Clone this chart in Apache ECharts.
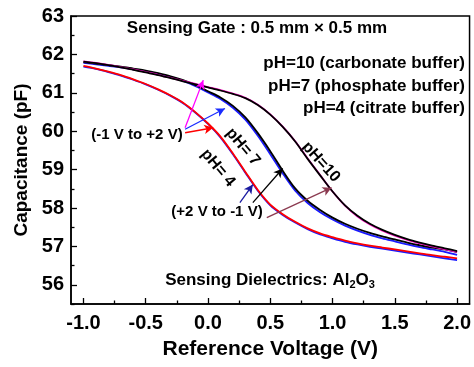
<!DOCTYPE html>
<html>
<head>
<meta charset="utf-8">
<script src="https://cdn.jsdelivr.net/npm/echarts@6/dist/echarts.min.js"></script>
<style>
  html, body { margin: 0; padding: 0; background: #fff; }
  #cv { width: 474px; height: 367px; }
</style>
</head>
<body>
<div id="cv"></div>
<script>
! function() {
    'use strict'
    var FONT = "'Liberation Sans', Arial, sans-serif";

    // reference voltage (V)
    var voltage = [-1.0, -0.9, -0.8, -0.7, -0.6, -0.5, -0.4, -0.3, -0.2, -0.1,
        0.0, 0.1, 0.2, 0.3, 0.4, 0.5, 0.6, 0.7, 0.8, 0.9,
        1.0, 1.1, 1.2, 1.3, 1.4, 1.5, 1.6, 1.7, 1.8, 1.9, 2.0];

    // capacitance (pF)
    var ph4Fwd = [61.70, 61.63, 61.55, 61.46, 61.35, 61.23, 61.09, 60.93, 60.74, 60.49,
        60.20, 59.86, 59.42, 58.94, 58.47, 58.09, 57.84, 57.64, 57.47, 57.34,
        57.24, 57.15, 57.08, 57.02, 56.97, 56.92, 56.87, 56.82, 56.77, 56.73, 56.69];
    var ph4Rev = [61.68, 61.62, 61.54, 61.45, 61.34, 61.22, 61.08, 60.92, 60.73, 60.48,
        60.19, 59.84, 59.40, 58.92, 58.45, 58.07, 57.82, 57.62, 57.45, 57.31,
        57.21, 57.12, 57.05, 56.99, 56.94, 56.89, 56.84, 56.79, 56.74, 56.69, 56.64];
    var ph7Fwd = [61.78, 61.74, 61.70, 61.66, 61.61, 61.56, 61.49, 61.41, 61.31, 61.17,
        61.01, 60.84, 60.61, 60.30, 59.88, 59.40, 58.90, 58.45, 58.13, 57.89,
        57.70, 57.54, 57.41, 57.30, 57.21, 57.13, 57.05, 56.98, 56.92, 56.86, 56.78];
    var ph7Rev = [61.80, 61.76, 61.72, 61.68, 61.63, 61.58, 61.51, 61.43, 61.33, 61.20,
        61.04, 60.88, 60.66, 60.36, 59.95, 59.48, 58.97, 58.51, 58.19, 57.95,
        57.75, 57.59, 57.46, 57.35, 57.26, 57.18, 57.10, 57.03, 56.97, 56.92, 56.85];
    var ph10Fwd = [61.82, 61.78, 61.73, 61.67, 61.61, 61.54, 61.47, 61.39, 61.31, 61.23,
        61.15, 61.07, 60.98, 60.87, 60.69, 60.44, 60.12, 59.74, 59.29, 58.86,
        58.43, 58.06, 57.78, 57.57, 57.41, 57.28, 57.17, 57.08, 57.00, 56.93, 56.86];
    var ph10Rev = [61.81, 61.77, 61.72, 61.66, 61.60, 61.53, 61.46, 61.38, 61.30, 61.22,
        61.14, 61.06, 60.97, 60.86, 60.68, 60.43, 60.11, 59.73, 59.28, 58.85,
        58.43, 58.07, 57.80, 57.59, 57.43, 57.30, 57.19, 57.10, 57.02, 56.95, 56.88];

    var xTicks = [-1.0, -0.5, 0.0, 0.5, 1.0, 1.5, 2.0];
    var xMinor = [-0.75, -0.25, 0.25, 0.75, 1.25, 1.75];
    var yTicks = [56, 57, 58, 59, 60, 61, 62, 63];
    var yMinor = [55.5, 56.5, 57.5, 58.5, 59.5, 60.5, 61.5, 62.5];

    // sweep direction arrows: [x1, y1, x2, y2, colour]
    var arrows = [
        [-0.184, 60.09, -0.038, 61.33, '#ff00ff'],
        [-0.184, 60.05, 0.136, 60.59, '#1a2cff'],
        [-0.184, 59.96, 0.042, 60.09, '#ff0000'],
        [0.256, 58.14, 0.36, 58.61, '#1a1aa0'],
        [0.36, 58.14, 0.6, 59.03, '#000000'],
        [0.472, 57.75, 0.992, 58.53, '#8b3a50']
    ];

    function pairs(ys) {
        return voltage.map(function(v, i) { return [v, ys[i]]; });
    }

    function curve(name, ys, color) {
        return {
            name: name,
            type: 'line',
            smooth: 0.3,
            showSymbol: false,
            symbol: 'none',
            lineStyle: { color: color, width: 1.8 },
            data: pairs(ys)
        };
    }

    var chart = echarts.init(document.getElementById('cv'));

    var series = [
        curve('pH=4 rev', ph4Rev, '#1a1aff'),
        curve('pH=4 fwd', ph4Fwd, '#ff0000'),
        curve('pH=7 fwd', ph7Fwd, '#1a1aff'),
        curve('pH=7 rev', ph7Rev, '#000000'),
        curve('pH=10 fwd', ph10Fwd, '#ff10c8'),
        curve('pH=10 rev', ph10Rev, '#000000')
    ];
    series.push({
        type: 'line',
        data: [],
        markLine: {
            silent: true,
            symbol: ['none', 'arrow'],
            symbolSize: [7, 9],
            label: { show: false },
            data: arrows.map(function(a) {
                return [{ coord: [a[0], a[1]], lineStyle: { color: a[4], width: 1.3, type: 'solid' } },
                    { coord: [a[2], a[3]] }];
            })
        }
    });

    var bold = { fontFamily: FONT, fontWeight: 'bold', fill: '#000' };

    var option = {
        animation: false,
        grid: {
            left: 71,
            right: 4,
            top: 16,
            bottom: 63,
            show: true,
            borderColor: '#000',
            borderWidth: 1.5
        },
        xAxis: [{
            type: 'value',
            min: -1.1,
            max: 2.1,
            axisLine: { show: true, onZero: false, lineStyle: { color: '#000', width: 1.5 } },
            axisTick: { inside: true, length: 6, customValues: xTicks, lineStyle: { color: '#000', width: 1.3 } },
            axisLabel: {
                customValues: xTicks,
                margin: 9,
                fontSize: 20,
                fontFamily: FONT,
                fontWeight: 'bold',
                color: '#000',
                formatter: function(v) { return v.toFixed(1); }
            },
            splitLine: { show: false },
            name: 'Reference Voltage (V)',
            nameLocation: 'middle',
            nameGap: 35,
            nameTextStyle: { fontSize: 21, fontFamily: FONT, fontWeight: 'bold', color: '#000' }
        }, {
            type: 'value',
            min: -1.1,
            max: 2.1,
            position: 'bottom',
            axisLine: { show: false, onZero: false },
            axisTick: { inside: true, length: 3.5, customValues: xMinor, lineStyle: { color: '#000', width: 1.3 } },
            axisLabel: { show: false },
            splitLine: { show: false }
        }],
        yAxis: [{
            type: 'value',
            min: 55.5,
            max: 63,
            axisLine: { show: true, onZero: false, lineStyle: { color: '#000', width: 1.5 } },
            axisTick: { inside: true, length: 6, customValues: yTicks, lineStyle: { color: '#000', width: 1.3 } },
            axisLabel: {
                customValues: yTicks,
                margin: 7,
                fontSize: 20,
                fontFamily: FONT,
                fontWeight: 'bold',
                color: '#000'
            },
            splitLine: { show: false },
            name: 'Capacitance (pF)',
            nameLocation: 'middle',
            nameGap: 39,
            nameTextStyle: { fontSize: 19, fontFamily: FONT, fontWeight: 'bold', color: '#000' }
        }, {
            type: 'value',
            min: 55.5,
            max: 63,
            position: 'left',
            axisLine: { show: false, onZero: false },
            axisTick: { inside: true, length: 3.5, customValues: yMinor, lineStyle: { color: '#000', width: 1.3 } },
            axisLabel: { show: false },
            splitLine: { show: false }
        }],
        graphic: [{
            type: 'text', x: 257, y: 28,
            style: Object.assign({ text: 'Sensing Gate : 0.5 mm \u00d7 0.5 mm', fontSize: 17, align: 'center', verticalAlign: 'middle' }, bold)
        }, {
            type: 'text', x: 465, y: 63,
            style: Object.assign({ text: 'pH=10 (carbonate buffer)', fontSize: 17, align: 'right', verticalAlign: 'middle' }, bold)
        }, {
            type: 'text', x: 465, y: 86,
            style: Object.assign({ text: 'pH=7 (phosphate buffer)', fontSize: 17, align: 'right', verticalAlign: 'middle' }, bold)
        }, {
            type: 'text', x: 465, y: 108,
            style: Object.assign({ text: 'pH=4 (citrate buffer)', fontSize: 17, align: 'right', verticalAlign: 'middle' }, bold)
        }, {
            type: 'text', x: 137, y: 135,
            style: Object.assign({ text: '(-1 V to +2 V)', fontSize: 15, align: 'center', verticalAlign: 'middle' }, bold)
        }, {
            type: 'text', x: 217, y: 212,
            style: Object.assign({ text: '(+2 V to -1 V)', fontSize: 15, align: 'center', verticalAlign: 'middle' }, bold)
        }, {
            type: 'text', x: 218, y: 168, rotation: -50 * Math.PI / 180,
            style: Object.assign({ text: 'pH= 4', fontSize: 16, align: 'center', verticalAlign: 'middle' }, bold)
        }, {
            type: 'text', x: 243, y: 147, rotation: -50 * Math.PI / 180,
            style: Object.assign({ text: 'pH= 7', fontSize: 16, align: 'center', verticalAlign: 'middle' }, bold)
        }, {
            type: 'text', x: 321, y: 162, rotation: -48 * Math.PI / 180,
            style: Object.assign({ text: 'pH=10', fontSize: 16, align: 'center', verticalAlign: 'middle' }, bold)
        }, {
            type: 'text', x: 270, y: 280,
            style: {
                text: 'Sensing Dielectrics: Al{s|2}O{s|3}',
                fontSize: 17, fontFamily: FONT, fontWeight: 'bold', fill: '#000',
                align: 'center', verticalAlign: 'middle',
                rich: {
                    s: { fontSize: 11, fontFamily: FONT, fontWeight: 'bold', fill: '#000', padding: [9, 0, 0, 0] }
                }
            }
        }],
        series: series
    };
    chart.setOption(option);
}()
</script>
</body>
</html>
